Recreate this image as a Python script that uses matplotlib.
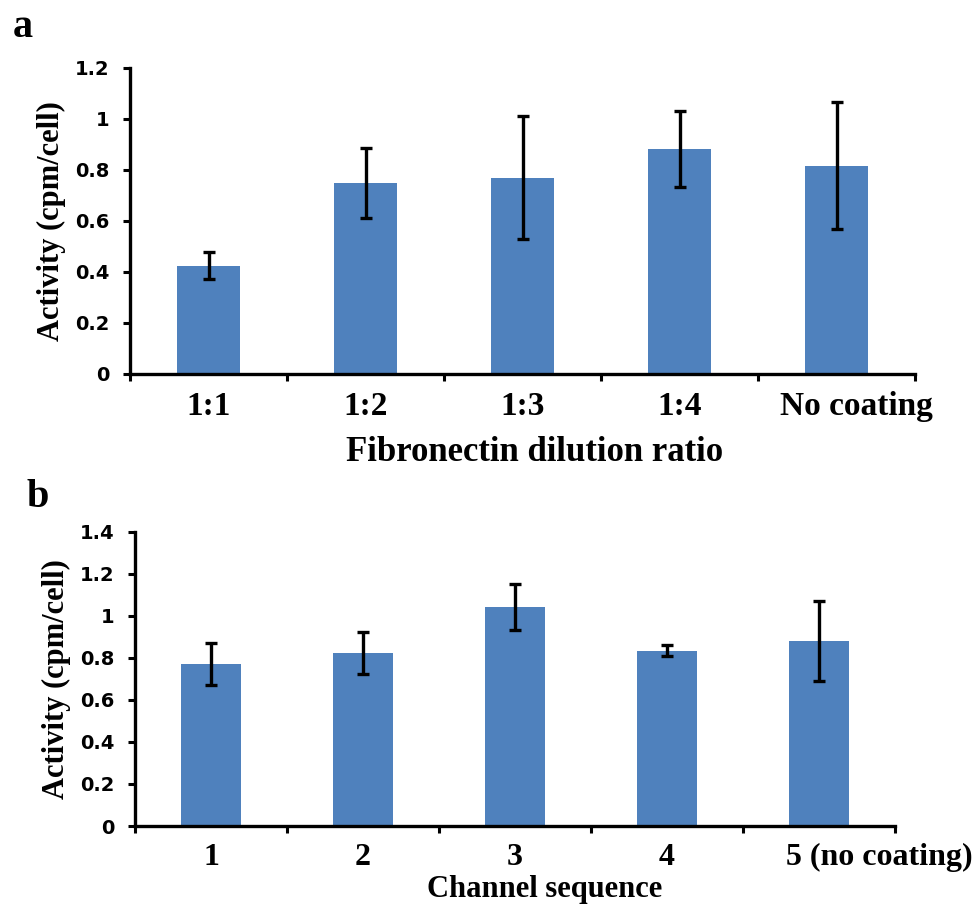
import numpy as np
import matplotlib.pyplot as plt
from matplotlib.transforms import ScaledTranslation

# ─── Data ────────────────────────────────────────────────────────────────
dilution_labels = ["1:1", "1:2", "1:3", "1:4", "No coating"]
dilution_mean   = [0.425, 0.748, 0.770, 0.882, 0.817]
dilution_err    = [0.053, 0.137, 0.240, 0.150, 0.250]

channel_labels  = ["1", "2", "3", "4", "5 (no coating)"]
channel_mean    = [0.771, 0.825, 1.043, 0.833, 0.882]
channel_err     = [0.100, 0.100, 0.110, 0.026, 0.190]

BAR_COLOR = "#4f81bd"
SERIF = "Liberation Serif"
SANS  = "DejaVu Sans"
DPI = 100


def draw_panel(fig, ax, labels, mean, err, ymax, xlabel, tick_fs, label_fs,
               xlabelpad, xlabel_x, last_shift):
    x = np.arange(len(labels))
    ax.bar(x, mean, width=0.4, color=BAR_COLOR, zorder=2)
    ax.errorbar(x, mean, yerr=err, fmt="none", ecolor="black",
                elinewidth=2.4, capsize=4, capthick=2.4, zorder=3)

    ax.set_xlim(-0.5, len(labels) - 0.5)
    ax.set_ylim(0, ymax)
    yt = np.arange(0, ymax + 0.01, 0.2)
    ax.set_yticks(yt)
    ax.set_yticklabels([f"{v:g}" for v in yt],
                       family=SANS, fontweight="bold", fontsize=14)

    # category labels in the middle, ticks on the boundaries
    ax.set_xticks(x)
    ax.set_xticklabels(labels, family=SERIF, fontweight="bold",
                       fontsize=tick_fs)
    ax.tick_params(axis="x", which="major", length=0, pad=12)
    ax.set_xticks(np.arange(-0.5, len(labels)), minor=True)
    ax.tick_params(axis="x", which="minor", length=5, width=2.2,
                   direction="out")
    ax.tick_params(axis="y", length=5, width=2.2, direction="out", pad=10)

    # the long last label sits a little to the right, as in the original
    last = ax.get_xticklabels()[-1]
    last.set_transform(last.get_transform() +
                       ScaledTranslation(last_shift / DPI, 0,
                                         fig.dpi_scale_trans))

    for side in ("top", "right"):
        ax.spines[side].set_visible(False)
    for side in ("left", "bottom"):
        ax.spines[side].set_linewidth(2.4)

    ax.set_ylabel("Activity (cpm/cell)", family=SERIF, fontweight="bold",
                  fontsize=22, labelpad=6)
    ax.set_xlabel(xlabel, family=SERIF, fontweight="bold", fontsize=label_fs,
                  labelpad=xlabelpad)
    ax.xaxis.label.set_x(xlabel_x)


def main():
    fig = plt.figure(figsize=(9.76, 9.09), dpi=DPI)
    ax_a = fig.add_axes([0.1332, 0.5886, 0.8043, 0.3366])
    ax_b = fig.add_axes([0.1383, 0.0913, 0.7787, 0.3237])

    draw_panel(fig, ax_a, dilution_labels, dilution_mean, dilution_err, 1.2,
               "Fibronectin dilution ratio", 24, 25, 10, 0.515, 20)
    draw_panel(fig, ax_b, channel_labels, channel_mean, channel_err, 1.4,
               "Channel sequence", 23, 22, 2, 0.539, 60)

    fig.text(0.013, 0.9593, "a", family=SERIF, fontweight="bold",
             fontsize=29, va="baseline")
    fig.text(0.027, 0.4422, "b", family=SERIF, fontweight="bold",
             fontsize=29, va="baseline")

    fig.savefig("out.png", dpi=DPI)


if __name__ == "__main__":
    main()
